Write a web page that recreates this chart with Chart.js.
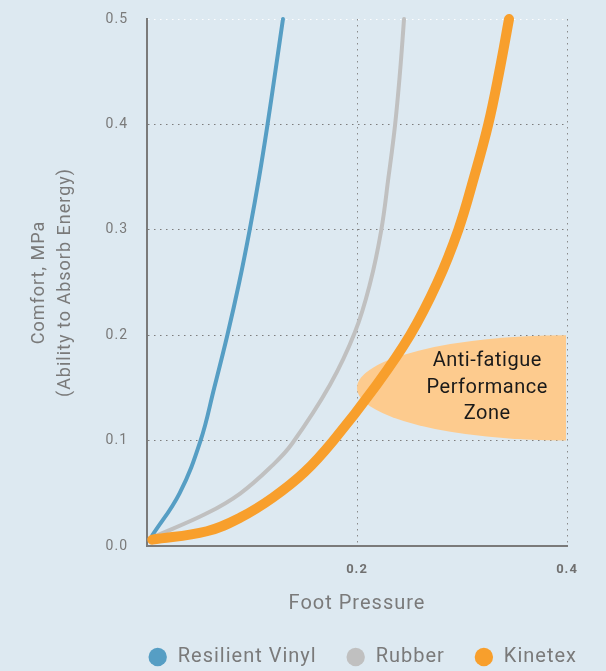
<!DOCTYPE html>
<html><head><meta charset="utf-8">
<script src="https://cdn.jsdelivr.net/npm/chart.js@4"></script>
<style>
html,body{margin:0;padding:0;background:#dde9f1;}
#wrap{width:606px;height:671px;position:relative;}
</style></head><body>
<div id="wrap"><canvas id="c"></canvas></div>
<script>
// ---- data ----
const seriesNames = ['Resilient Vinyl', 'Rubber', 'Kinetex'];
const vinylPressure   = [0.005, 0.031, 0.051, 0.064, 0.0765, 0.0878, 0.0978, 0.1068, 0.1148, 0.1222, 0.1295];
const vinylComfort    = [0.010, 0.050, 0.100, 0.150, 0.200,  0.250,  0.300,  0.350,  0.400,  0.450,  0.500];
const rubberPressure  = [0.005, 0.057, 0.089, 0.120, 0.1381, 0.1743, 0.1981, 0.2124, 0.2229, 0.230, 0.2362, 0.241, 0.2448];
const rubberComfort   = [0.008, 0.031, 0.050, 0.077, 0.097,  0.153,  0.203,  0.249,  0.2985, 0.350, 0.399,  0.450, 0.500];
const kinetexPressure = [0.005, 0.057, 0.089, 0.120, 0.150, 0.1775, 0.2165, 0.2505, 0.2765, 0.2965, 0.3115, 0.325, 0.3355, 0.3448];
const kinetexComfort  = [0.006, 0.014, 0.027, 0.046, 0.070, 0.100,  0.150,  0.200,  0.250,  0.300,  0.350,  0.400, 0.450,  0.500];
const xTickValues = [0, 0.2, 0.4];
const xTickLabels = ['', '0.2', '0.4'];
const yTickValues = [0, 0.1, 0.2, 0.3, 0.4, 0.5];
const yTickLabels = ['0.0', '0.1', '0.2', '0.3', '0.4', '0.5'];
const xTitle = 'Foot Pressure';
const yTitle = ['Comfort, MPa', '(Ability to Absorb Energy)'];
const zoneLabel = ['Anti-fatigue', 'Performance', 'Zone'];
const zoneCenter = [0.4, 0.15];   // value space
const zoneRadius = [0.2, 0.05];   // value space
const zoneLabelAt = [0.324, 0.15];

const zip = (xs, ys) => xs.map((x, i) => ({x, y: ys[i]}));
const FONT = 'Roboto';
const SPACING = '1px';

const spacingPlugin = {
  id: 'spacing',
  beforeLayout(chart) { chart.ctx.letterSpacing = SPACING; },
  beforeDraw(chart) { chart.ctx.letterSpacing = SPACING; }
};

const zonePlugin = {
  id: 'zone',
  beforeDatasetsDraw(chart) {
    const {ctx, chartArea: a, scales: {x, y}} = chart;
    const cx = x.getPixelForValue(zoneCenter[0]);
    const cy = y.getPixelForValue(zoneCenter[1]);
    const rx = Math.abs(x.getPixelForValue(zoneCenter[0] + zoneRadius[0]) - cx);
    const ry = Math.abs(y.getPixelForValue(zoneCenter[1] + zoneRadius[1]) - cy);
    ctx.save();
    ctx.beginPath();
    ctx.rect(a.left, a.top, a.width - 1, a.height);
    ctx.clip();
    ctx.beginPath();
    ctx.ellipse(cx, cy, rx, ry, 0, 0, Math.PI * 2);
    ctx.fillStyle = '#fdcb8e';
    ctx.fill();
    ctx.restore();
  },
  afterDatasetsDraw(chart) {
    const {ctx, scales: {x, y}} = chart;
    const tx = x.getPixelForValue(zoneLabelAt[0]);
    const ty = y.getPixelForValue(zoneLabelAt[1]);
    ctx.save();
    ctx.letterSpacing = '0.5px';
    ctx.font = '20px ' + FONT;
    ctx.fillStyle = '#1a1a1a';
    ctx.textAlign = 'center';
    ctx.textBaseline = 'middle';
    const lh = 26.5;
    zoneLabel.forEach((t, i) => ctx.fillText(t, tx, ty + (i - 1) * lh));
    ctx.restore();
  }
};

new Chart(document.getElementById('c'), {
  type: 'line',
  data: {
    datasets: [
      {label: seriesNames[0], data: zip(vinylPressure, vinylComfort), borderColor: '#569ec4', backgroundColor: '#569ec4', borderWidth: 4, order: 2},
      {label: seriesNames[1], data: zip(rubberPressure, rubberComfort), borderColor: '#c0c0c0', backgroundColor: '#c0c0c0', borderWidth: 4, order: 1},
      {label: seriesNames[2], data: zip(kinetexPressure, kinetexComfort), borderColor: '#f89f2c', backgroundColor: '#f89f2c', borderWidth: 10, order: 0}
    ].map(d => Object.assign(d, {
      pointRadius: 0, pointHoverRadius: 0, pointStyle: 'circle',
      tension: 0.4, borderCapStyle: 'round', borderJoinStyle: 'round', clip: 12
    }))
  },
  options: {
    responsive: true,
    maintainAspectRatio: false,
    animation: false,
    events: [],
    layout: {padding: {left: 0, right: 0, top: 19, bottom: -6}},
    scales: {
      x: {
        type: 'linear', min: 0, max: 0.4,
        afterBuildTicks: s => { s.ticks = xTickValues.map(v => ({value: v})); },
        afterFit: s => { s.height = 72; },
        ticks: {
          padding: 16, color: '#707070',
          font: {family: FONT, size: 13, weight: 'bold'},
          callback: (v, i) => xTickLabels[i]
        },
        grid: {color: '#8a8a8a', lineWidth: 1, drawTicks: false},
        border: {display: true, color: '#7a7a7a', width: 2, dash: [1.5, 4.5]},
        title: {display: true, text: xTitle, color: '#7a7a7a', font: {family: FONT, size: 20}, padding: {top: 0, bottom: 2}}
      },
      y: {
        type: 'linear', min: 0, max: 0.5,
        afterBuildTicks: s => { s.ticks = yTickValues.map(v => ({value: v})); },
        afterFit: s => { s.width = 147; s.paddingTop = 0; s.paddingBottom = 0; },
        ticks: {
          padding: 19, color: '#7a7a7a',
          font: {family: FONT, size: 14},
          callback: (v, i) => yTickLabels[i]
        },
        grid: {
          color: c => (c.tick && Math.abs(c.tick.value - 0.5) < 1e-9) ? 'rgba(255,255,255,0.95)' : '#7d7d7d',
          lineWidth: 1, drawTicks: false
        },
        border: {display: true, color: '#7a7a7a', width: 2, dash: [1.5, 4.5]},
        title: {display: true, text: yTitle, color: '#7a7a7a', font: {family: FONT, size: 18, lineHeight: 1.45}, padding: {top: 26, bottom: 0}}
      },
      yRight: {
        type: 'linear', position: 'right', min: 0, max: 0.5, display: true,
        afterFit: s => { s.width = 39; s.paddingTop = 0; s.paddingBottom = 0; },
        ticks: {display: false},
        grid: {display: false, drawTicks: false},
        border: {display: false}
      }
    },
    plugins: {
      tooltip: {enabled: false},
      legend: {
        position: 'bottom', fullSize: true, align: 'end',
        labels: {
          usePointStyle: true, pointStyle: 'circle', boxHeight: 13, padding: 29,
          color: '#7a7a7a', font: {family: FONT, size: 20},
          sort: (a, b) => a.datasetIndex - b.datasetIndex,
          generateLabels: chart => Chart.defaults.plugins.legend.labels.generateLabels(chart).map(l => Object.assign(l, {lineWidth: 0}))
        }
      }
    }
  },
  plugins: [spacingPlugin, zonePlugin]
});
</script>
</body></html>
